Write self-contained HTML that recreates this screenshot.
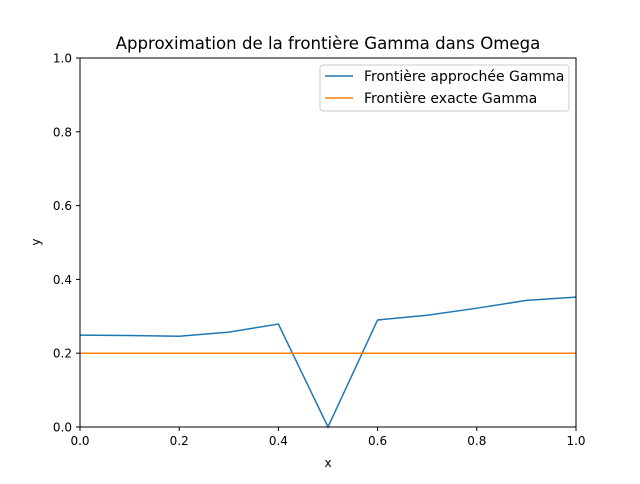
<!DOCTYPE html>
<html><head><meta charset="utf-8"><style>
body{margin:0;background:#fff;font-family:"DejaVu Sans","Liberation Sans",sans-serif;}
svg text{font-family:"DejaVu Sans","Liberation Sans",sans-serif;}
</style></head><body>
<svg id="chart" width="640" height="480" xmlns="http://www.w3.org/2000/svg">
<rect width="640" height="480" fill="#fff"/>
<text x="328" y="49" font-size="16.6" text-anchor="middle">Approximation de la frontière Gamma dans Omega</text>
<g id="ticks"></g>
<g id="plot"></g>
<rect x="80" y="58" width="496" height="369" fill="none" stroke="#000" stroke-width="1"/>
<text x="328" y="467" font-size="12" text-anchor="middle">x</text>
<text x="40" y="242" font-size="12" text-anchor="middle" transform="rotate(-90 40 242)">y</text>
<g>
<rect x="320" y="65" width="249" height="46" rx="3" fill="#fff" fill-opacity="0.8" stroke="#ccc"/>
<line x1="325" y1="76" x2="353" y2="76" stroke="#1f77b4" stroke-width="1.5"/>
<text x="364" y="81" font-size="14">Frontière approchée Gamma</text>
<line x1="325" y1="98" x2="353" y2="98" stroke="#ff7f0e" stroke-width="1.5"/>
<text x="364" y="103" font-size="14">Frontière exacte Gamma</text>
</g>
</svg>
<script>
const xs=[0,0.1,0.2,0.3,0.4,0.5,0.6,0.7,0.8,0.9,1.0];
const approxY=[0.249,0.248,0.246,0.257,0.279,0,0.29,0.303,0.322,0.343,0.352];
const exactY=[0.2,0.2,0.2,0.2,0.2,0.2,0.2,0.2,0.2,0.2,0.2];
const xTicks=[0,0.2,0.4,0.6,0.8,1.0];
const yTicks=[0,0.2,0.4,0.6,0.8,1.0];
const NS="http://www.w3.org/2000/svg";
const X=v=>80+496*v, Y=v=>427-369*v;
const tg=document.getElementById('ticks'), pg=document.getElementById('plot');
function mk(t,a,p){const e=document.createElementNS(NS,t);for(const k in a)e.setAttribute(k,a[k]);p.appendChild(e);return e;}
xTicks.forEach(v=>{
 const l=mk('line',{x1:X(v),x2:X(v),y1:427,y2:431,stroke:'#000'},tg);
 
 
 const t=mk('text',{x:X(v),y:445,'font-size':12,'text-anchor':'middle'},tg);t.textContent=v.toFixed(1);
 
 
});
yTicks.forEach(v=>{
 const l=mk('line',{x1:76,x2:80,y1:Y(v),y2:Y(v),stroke:'#000'},tg);
 
 
 const t=mk('text',{x:72,y:Y(v)+4.5,'font-size':12,'text-anchor':'end'},tg);t.textContent=v.toFixed(1);
 
 
});
const a=mk('polyline',{points:xs.map((x,i)=>X(x)+','+Y(approxY[i])).join(' '),fill:'none',stroke:'#1f77b4','stroke-width':1.5},pg);


const b=mk('polyline',{points:xs.map((x,i)=>X(x)+','+Y(exactY[i])).join(' '),fill:'none',stroke:'#ff7f0e','stroke-width':1.5},pg);


</script>
</body></html>
